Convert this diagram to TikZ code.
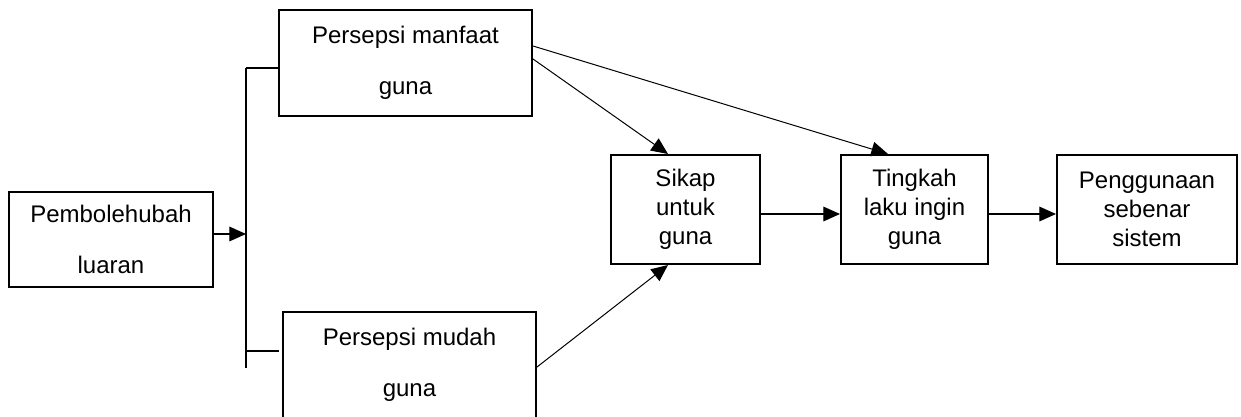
\documentclass[tikz,border=0pt]{standalone}
\usepackage{fontspec}
\setmainfont{Liberation Sans}
\usetikzlibrary{arrows.meta,calc}
\begin{document}
\begin{tikzpicture}[x=0.75pt,y=-0.75pt,
  box/.style={draw,line width=1.5pt,inner sep=0pt,align=center,font=\fontsize{18pt}{21.75pt}\selectfont},
  wide/.style={box,font=\fontsize{18pt}{38.25pt}\selectfont},
  arr/.style={line width=0.9pt,-{Triangle[length=12.5pt,width=11pt]}},
  thinarr/.style={line width=0.75pt,-{Triangle[length=12.5pt,width=11pt]}},
  brk/.style={line width=1.5pt}]
\useasboundingbox (0,0) rectangle (1241,417);
\node[wide,minimum width=153pt,minimum height=71.25pt] (pl) at (111,239.5) {Pembolehubah\\luaran};
\node[wide,minimum width=189.75pt,minimum height=79.5pt] (pm) at (405.5,63) {Persepsi manfaat\\guna};
\node[wide,minimum width=189.75pt,minimum height=79.5pt] (pe) at (409.5,365) {Persepsi mudah\\guna};
\node[box,minimum width=111.75pt,minimum height=81.75pt] (sk) at (685.5,209.5) {Sikap\\untuk\\guna};
\node[box,minimum width=110.25pt,minimum height=81.75pt] (tk) at (914.5,209.5) {Tingkah\\laku ingin\\guna};
\node[box,minimum width=135pt,minimum height=81.75pt] (pg) at (1147,209.5) {Penggunaan\\sebenar\\sistem};
% bracket
\coordinate (bt) at (246,68);
\coordinate (bb) at (246,368);
\coordinate (bm) at (246,234);
\coordinate (bl) at (246,351);
\coordinate (blr) at (279,351);
\draw[brk] (bt) -- (bb);
\draw[brk] (bt) -- (pm.west |- bt);
\draw[brk] (bl) -- (blr);
\draw[arr] (pl.east |- bm) -- (bm);
% diagonals
\draw[thinarr] ($(pm.east)+(0,-4)$) -- ($(sk.north)+(-17.5,0)$);
\draw[thinarr] ($(pm.east)+(0,-17)$) -- ($(tk.north)+(-26.5,0)$);
\draw[thinarr] ($(pe.east)+(0,2)$) -- ($(sk.south)+(-17.5,0)$);
% horizontals
\draw[arr] ($(sk.east)+(0,4.5)$) -- ($(tk.west)+(0,4.5)$);
\draw[arr] ($(tk.east)+(0,4.5)$) -- ($(pg.west)+(0,4.5)$);
\end{tikzpicture}
\end{document}
